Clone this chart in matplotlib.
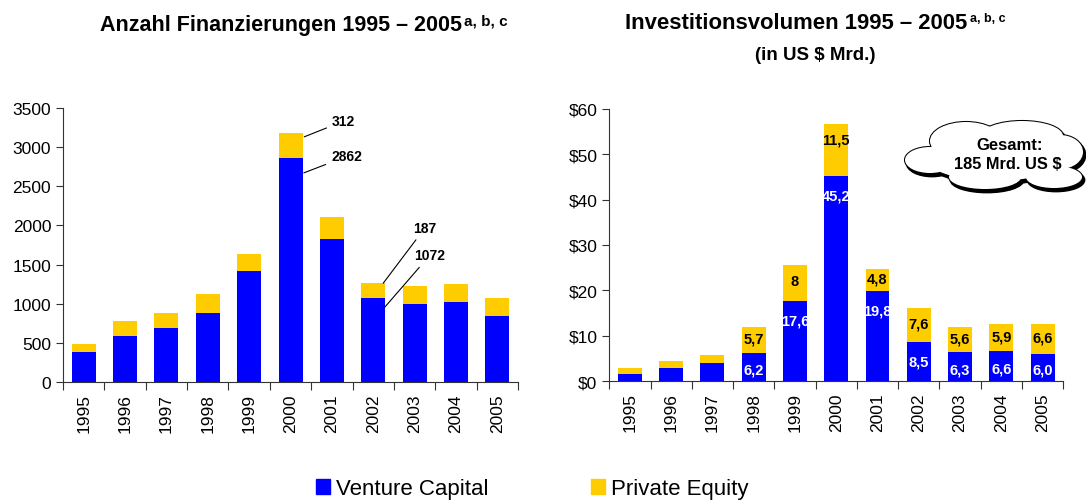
import numpy as np
import matplotlib.pyplot as plt
from matplotlib.patches import Ellipse, Patch

plt.rcParams['font.family'] = ['Liberation Sans', 'DejaVu Sans']

# data
years = ['1995', '1996', '1997', '1998', '1999', '2000', '2001', '2002', '2003', '2004', '2005']
deals_vc = [387, 591, 693, 885, 1420, 2862, 1829, 1072, 999, 1025, 846]
deals_pe = [102, 192, 192, 242, 217, 312, 280, 187, 230, 230, 230]
vol_vc = [1.6, 2.9, 4.0, 6.2, 17.6, 45.2, 19.8, 8.5, 6.3, 6.6, 6.0]
vol_pe = [1.3, 1.6, 1.8, 5.7, 8.0, 11.5, 4.8, 7.6, 5.6, 5.9, 6.6]
vol_labels_vc = ['', '', '', '6,2', '17,6', '45,2', '19,8', '8,5', '6,3', '6,6', '6,0']
vol_labels_pe = ['', '', '', '5,7', '8', '11,5', '4,8', '7,6', '5,6', '5,9', '6,6']

blue = '#0000FF'
yellow = '#FFCC00'
x = np.arange(len(years))
w = 0.58

fig = plt.figure(figsize=(10.86, 5.02), dpi=100)


def style_axes(ax):
    ax.spines['top'].set_visible(False)
    ax.spines['right'].set_visible(False)
    ax.spines['left'].set_color('#333333')
    ax.spines['bottom'].set_color('#333333')
    ax.set_xlim(-0.5, len(years) - 0.5)
    ax.set_xticks(np.arange(-0.5, len(years), 1))
    ax.set_xticklabels([])
    ax.set_xticks(x, minor=True)
    ax.set_xticklabels(years, minor=True, rotation=90, fontsize=12.5)
    ax.tick_params(axis='x', which='major', length=6, direction='out', color='#333333')
    ax.tick_params(axis='x', which='minor', length=0, pad=8)
    ax.tick_params(axis='y', length=5, labelsize=12.5, color='#333333')


# left chart
ax1 = fig.add_axes([0.058, 0.237, 0.419, 0.546])
ax1.bar(x, deals_vc, w, color=blue)
ax1.bar(x, deals_pe, w, bottom=deals_vc, color=yellow)
ax1.set_ylim(0, 3500)
ax1.set_yticks(range(0, 3501, 500))
style_axes(ax1)

ann = dict(fontsize=10, fontweight='bold', ha='left', va='center')
line = dict(arrowstyle='-', color='black', lw=0.8)
ax1.annotate('312', xy=(5.27, 3118), xytext=(6.0, 3330), arrowprops=line, **ann)
ax1.annotate('2862', xy=(5.26, 2658), xytext=(5.98, 2880), arrowprops=line, **ann)
ax1.annotate('187', xy=(7.2, 1233), xytext=(7.97, 1969), arrowprops=line, **ann)
ax1.annotate('1072', xy=(7.21, 914), xytext=(7.99, 1616), arrowprops=line, **ann)

# right chart
ax2 = fig.add_axes([0.561, 0.239, 0.418, 0.542])
ax2.bar(x, vol_vc, w, color=blue)
ax2.bar(x, vol_pe, w, bottom=vol_vc, color=yellow)
ax2.set_ylim(0, 60)
ax2.set_yticks(range(0, 61, 10))
ax2.set_yticklabels(['$%d' % v for v in range(0, 61, 10)])
style_axes(ax2)

for i in range(len(years)):
    vc, pe = vol_vc[i], vol_pe[i]
    if vol_labels_vc[i]:
        ax2.text(x[i], max(vc - 4.2, vc / 2 - 0.5), vol_labels_vc[i], color='white',
                 fontsize=10.5, fontweight='bold', ha='center', va='center')
    if vol_labels_pe[i]:
        top = vc + pe
        ax2.text(x[i], max(vc + pe / 2, top - 3.8) + 0.3, vol_labels_pe[i], color='black',
                 fontsize=10.5, fontweight='bold', ha='center', va='center')

# titles
fig.text(0.4254, 0.950, 'Anzahl Finanzierungen 1995 – 2005', fontsize=15.5, fontweight='bold',
         ha='right', va='center')
fig.text(0.427, 0.958, 'a, b, c', fontsize=11, fontweight='bold', ha='left', va='center')
fig.text(0.891, 0.953, 'Investitionsvolumen 1995 – 2005', fontsize=15.9, fontweight='bold',
         ha='right', va='center')
fig.text(0.893, 0.962, 'a, b, c', fontsize=9, fontweight='bold', ha='left', va='center')
fig.text(0.751, 0.890, '(in US $ Mrd.)', fontsize=13.5, fontweight='bold', ha='center', va='center')

# cloud, drawn in pixel coordinates
axc = fig.add_axes([0, 0, 1, 1], zorder=5)
axc.set_xlim(0, 1086)
axc.set_ylim(502, 0)
axc.axis('off')
blobs = [(995, 158, 140, 48), (966, 142, 72, 38), (1022, 137, 82, 30), (1060, 153, 46, 34),
         (1054, 178, 56, 22), (985, 178, 72, 24), (930, 161, 50, 26)]
for cx, cy, bw, bh in blobs:
    axc.add_patch(Ellipse((cx + 2, cy + 3), bw, bh, facecolor='black', edgecolor='black', lw=2))
for cx, cy, bw, bh in blobs:
    axc.add_patch(Ellipse((cx, cy), bw, bh, facecolor='white', edgecolor='black', lw=1.5))
for cx, cy, bw, bh in blobs:
    axc.add_patch(Ellipse((cx, cy), bw, bh, facecolor='white', edgecolor='none'))
axc.text(1010, 146, 'Gesamt:', fontsize=12, fontweight='bold', ha='center', va='center')
axc.text(1008, 165, '185 Mrd. US $', fontsize=11.8, fontweight='bold', ha='center', va='center')

# legend
handles = [Patch(color=blue, label='Venture Capital'), Patch(color=yellow, label='Private Equity')]
fig.legend(handles=handles, loc='center', bbox_to_anchor=(0.49, 0.025), ncol=2, frameon=False,
           fontsize=16, handlelength=0.65, handleheight=0.65, handletextpad=0.25,
           columnspacing=4.6)

fig.savefig('out.png', dpi=100)
